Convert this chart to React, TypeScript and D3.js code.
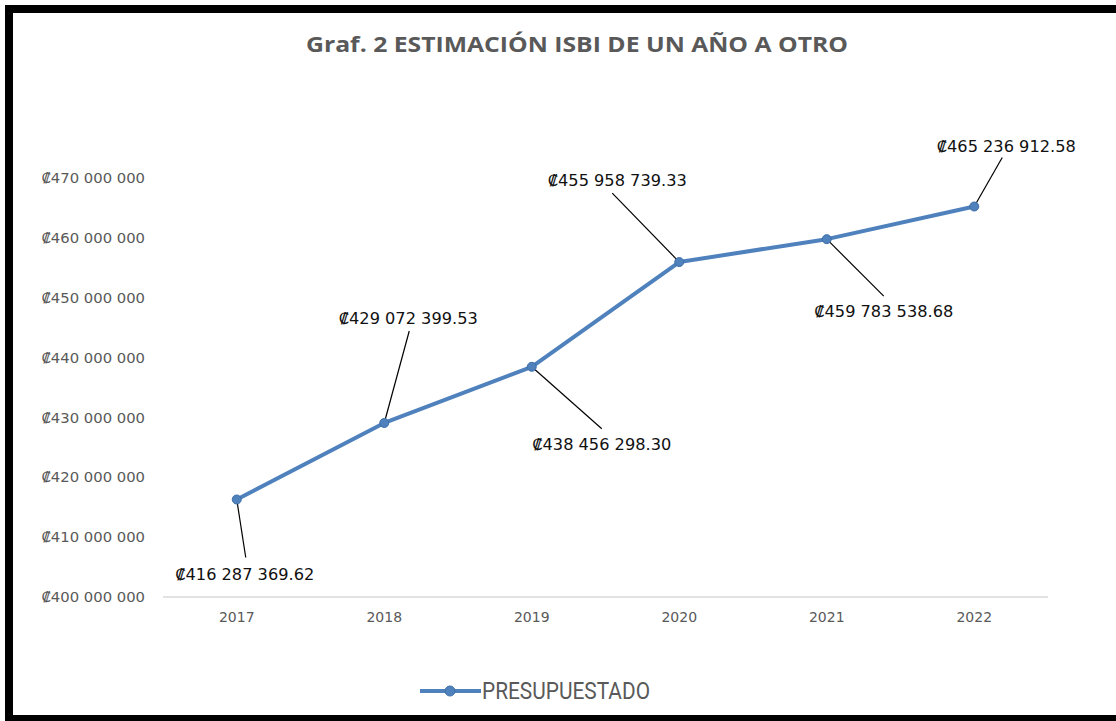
import React from "react";
import * as d3 from "d3";

const years = ["2017", "2018", "2019", "2020", "2021", "2022"];
const presupuestado = [416287369.62, 429072399.53, 438456298.3, 455958739.33, 459783538.68, 465236912.58];
const yTicks = [400000000, 410000000, 420000000, 430000000, 440000000, 450000000, 460000000, 470000000];
const title = "Graf. 2 ESTIMACIÓN ISBI DE UN AÑO A OTRO";
const seriesName = "PRESUPUESTADO";

// where each data label sits relative to its point: [label dx, label dy, leader end dx, leader end dy]
const labelLayout = [
  [8, 75, 9, 58],
  [24, -105, 25, -92],
  [70, 78, 70, 62],
  [-62, -82, -67, -69],
  [57, 72, 57, 57],
  [32, -60, 28, -49],
];

const W = 1116;
const H = 721;
const margin = { top: 178, right: 68, bottom: 124, left: 163 };

const locale = d3.formatLocale({
  decimal: ".",
  thousands: " ",
  grouping: [3],
  currency: ["₡", ""],
});
const fmtTick = locale.format("$,");
const fmtLabel = locale.format("$,.2f");

export default function App() {
  const x = d3
    .scalePoint<string>()
    .domain(years)
    .range([margin.left, W - margin.right])
    .padding(0.5);

  const y = d3
    .scaleLinear()
    .domain([400000000, 470000000])
    .range([H - margin.bottom, margin.top]);

  const pts = years.map((yr, i) => ({ yr, v: presupuestado[i], px: x(yr)!, py: y(presupuestado[i]) }));

  const line = d3
    .line<{ px: number; py: number }>()
    .x((d) => d.px)
    .y((d) => d.py);

  const blue = "#4f81bd";
  const grey = "#595959";

  return (
    <svg
      width={W}
      height={H}
      style={{ position: "absolute", left: 0, top: 0, display: "block", background: "#fff" }}
    >
      <rect x={0} y={0} width={W} height={H} fill="#fff" />
      {/* frame */}
      <rect x={9} y={9} width={W + 20} height={710} fill="none" stroke="#000" strokeWidth={8} />

      {/* title */}
      <text
        x={577}
        y={52}
        textAnchor="middle"
        fontFamily="'Open Sans', sans-serif"
        fontWeight={700}
        fontSize={21}
        fill={grey}
        textLength={542}
        lengthAdjust="spacingAndGlyphs"
      >
        {title}
      </text>

      {/* y axis labels */}
      {yTicks.map((t) => (
        <text
          key={t}
          x={145}
          y={y(t)}
          dy="0.35em"
          textAnchor="end"
          fontFamily="'DejaVu Sans', sans-serif"
          fontSize={14.8}
          fill={grey}
        >
          {fmtTick(t)}
        </text>
      ))}

      {/* x axis */}
      <line
        x1={margin.left}
        x2={W - margin.right}
        y1={y(400000000)}
        y2={y(400000000)}
        stroke="#d9d9d9"
        strokeWidth={1.5}
      />
      {years.map((yr) => (
        <text
          key={yr}
          x={x(yr)}
          y={y(400000000) + 20}
          dy="0.35em"
          textAnchor="middle"
          fontFamily="'DejaVu Sans', sans-serif"
          fontSize={14}
          fill={grey}
        >
          {yr}
        </text>
      ))}

      {/* leader lines */}
      {pts.map((p, i) => (
        <line
          key={"l" + p.yr}
          x1={p.px}
          y1={p.py}
          x2={p.px + labelLayout[i][2]}
          y2={p.py + labelLayout[i][3]}
          stroke="#000"
          strokeWidth={1.2}
        />
      ))}

      {/* series */}
      <path d={line(pts) ?? ""} fill="none" stroke={blue} strokeWidth={4} strokeLinejoin="round" />
      {pts.map((p) => (
        <circle key={"c" + p.yr} cx={p.px} cy={p.py} r={4.5} fill={blue} stroke="#3f6fa8" strokeWidth={1} />
      ))}

      {/* data labels */}
      {pts.map((p, i) => (
        <text
          key={"t" + p.yr}
          x={p.px + labelLayout[i][0]}
          y={p.py + labelLayout[i][1]}
          dy="0.35em"
          textAnchor="middle"
          fontFamily="'DejaVu Sans', sans-serif"
          fontSize={16.2}
          fill="#111"
        >
          {fmtLabel(p.v)}
        </text>
      ))}

      {/* legend */}
      <line x1={420} x2={481} y1={691} y2={691} stroke={blue} strokeWidth={4} />
      <circle cx={450} cy={691} r={5} fill={blue} stroke="#3f6fa8" strokeWidth={1} />
      <text
        x={482}
        y={699}
        fontFamily="'Liberation Sans Narrow', 'Arial Narrow', 'Roboto', sans-serif"
        fontSize={24}
        fill={grey}
        textLength={168}
        lengthAdjust="spacingAndGlyphs"
      >
        {seriesName}
      </text>
    </svg>
  );
}
